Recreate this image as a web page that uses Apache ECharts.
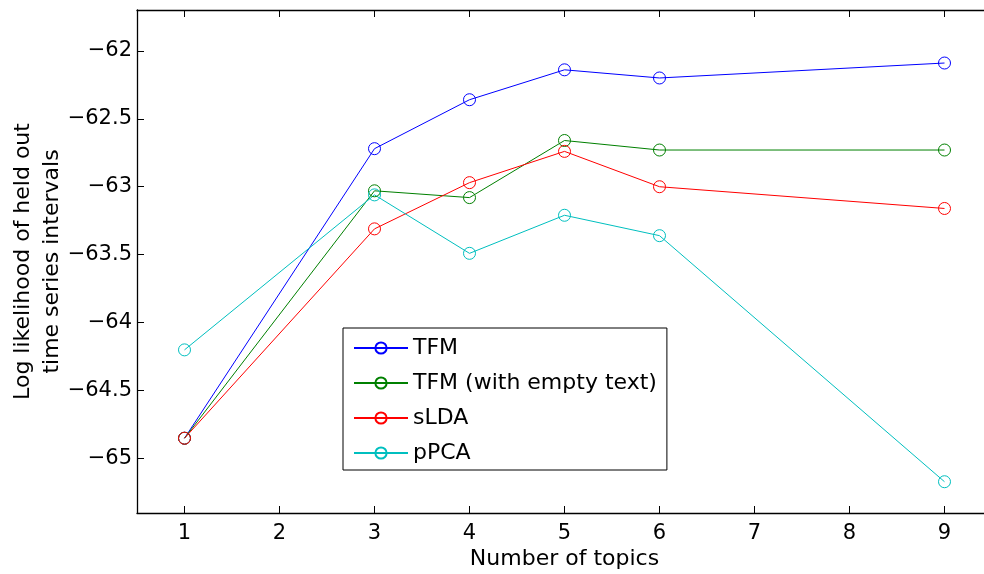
<!DOCTYPE html>
<html>
<head>
<meta charset="utf-8">
<script src="https://cdn.jsdelivr.net/npm/echarts@6/dist/echarts.min.js"></script>
<style>
  html, body { margin: 0; padding: 0; background: #fff; }
  #main { width: 984px; height: 574px; }
</style>
</head>
<body>
<div id="main"></div>
<script>
// number of topics
const topics = [1, 3, 4, 5, 6, 9];
// log likelihood
const tfm = [-64.85, -62.72, -62.36, -62.14, -62.20, -62.09];
const tfmEmpty = [-64.85, -63.03, -63.08, -62.66, -62.73, -62.73];
const slda = [-64.85, -63.31, -62.97, -62.74, -63.00, -63.16];
const ppca = [-64.20, -63.06, -63.49, -63.21, -63.36, -65.17];

const xTicks = [1, 2, 3, 4, 5, 6, 7, 8, 9];
const yTicks = [-65, -64.5, -64, -63.5, -63, -62.5, -62];

const names = ['TFM', 'TFM (with empty text)', 'sLDA', 'pPCA'];
const colors = ['#0000ff', '#008000', '#ff0000', '#00bfbf'];
const values = [tfm, tfmEmpty, slda, ppca];

const font = 'DejaVu Sans, sans-serif';
let myChart = echarts.init(document.getElementById('main'));

// 系列
let series = names.map((name, i) => ({
    name: name,
    type: 'line',
    xAxisIndex: 0,
    yAxisIndex: 0,
    data: topics.map((t, j) => [t, values[i][j]]),
    symbol: 'circle',
    symbolSize: 12,
    showSymbol: true,
    lineStyle: { color: colors[i], width: 1 },
    itemStyle: { color: 'rgba(0,0,0,0)', borderColor: colors[i], borderWidth: 1 },
    emphasis: { disabled: true },
    animation: false
}));

myChart.setOption({
    backgroundColor: '#fff',
    textStyle: { fontFamily: font },
    // plot box runs past the right edge of the picture
    grid: { left: 137, top: 10, bottom: 61, right: -8, outerBoundsMode: 'none', containLabel: false },
    legend: {
        orient: 'vertical',
        left: 343,
        top: 328,
        width: 321,
        padding: [9, 10, 6, 10],
        itemGap: 13,
        itemWidth: 54,
        itemHeight: 14,
        borderColor: '#000',
        borderWidth: 1,
        backgroundColor: '#fff',
        textStyle: { fontSize: 22, color: '#000', fontFamily: font },
        data: names
    },
    xAxis: [{
        type: 'value',
        min: 0.5,
        max: 9.5,
        position: 'bottom',
        name: 'Number of topics',
        nameLocation: 'middle',
        nameGap: 35,
        nameMoveOverlap: false,
        nameTextStyle: { fontSize: 22, color: '#000', fontFamily: font },
        axisLine: { lineStyle: { color: '#000', width: 1.3 } },
        axisTick: { inside: true, length: 7, customValues: xTicks, lineStyle: { color: '#000' } },
        axisLabel: { customValues: xTicks, margin: 10, fontSize: 21, color: '#000', fontFamily: font },
        splitLine: { show: false }
    }, {
        type: 'value',
        min: 0.5,
        max: 9.5,
        position: 'top',
        axisLine: { lineStyle: { color: '#000', width: 1.3 } },
        axisTick: { inside: true, length: 7, customValues: xTicks, lineStyle: { color: '#000' } },
        axisLabel: { show: false },
        splitLine: { show: false }
    }],
    yAxis: [{
        type: 'value',
        min: -65.4,
        max: -61.7,
        name: 'Log likelihood of held out\ntime series intervals',
        nameLocation: 'middle',
        nameRotate: 90,
        nameGap: 70,
        nameMoveOverlap: false,
        nameTextStyle: { fontSize: 22, lineHeight: 29, color: '#000', fontFamily: font },
        axisLine: { show: true, lineStyle: { color: '#000', width: 1.3 } },
        axisTick: { show: true, inside: true, length: 7, customValues: yTicks, lineStyle: { color: '#000' } },
        axisLabel: {
            customValues: yTicks,
            margin: 5,
            fontSize: 21,
            color: '#000',
            fontFamily: font,
            formatter: v => String(v).replace('-', '\u2212')
        },
        splitLine: { show: false }
    }],
    series: series
});
</script>
</body>
</html>
